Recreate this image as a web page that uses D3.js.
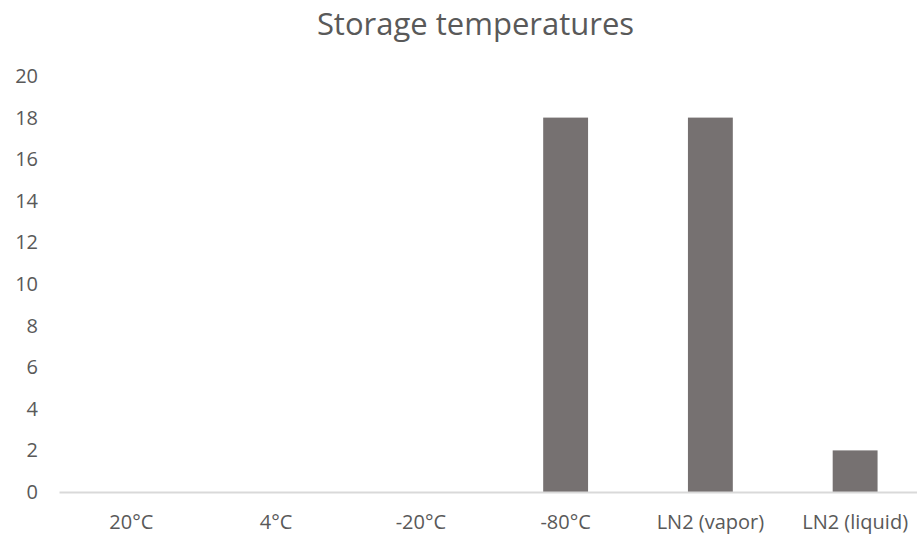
<!DOCTYPE html>
<html><head><meta charset="utf-8">
<script src="https://cdn.jsdelivr.net/npm/d3@7"></script>
<style>body{margin:0;background:#fff}svg{display:block}</style>
</head><body>
<script>
const categories = ["20°C","4°C","-20°C","-80°C","LN2 (vapor)","LN2 (liquid)"];
const values = [0,0,0,18,18,2];
const yTicks = [0,2,4,6,8,10,12,14,16,18,20];
const title = "Storage temperatures";

const W = 917, H = 535;
const svg = d3.select("body").append("svg").attr("width", W).attr("height", H);
const font = "'Open Sans', sans-serif";
const x = d3.scaleBand().domain(categories).range([59, 927.5]).paddingInner(0.69).paddingOuter(0.345);
const y = d3.scaleLinear().domain([0,20]).range([492, 76]);

svg.append("text").attr("x", 475.5).attr("y", 35).attr("text-anchor","middle")
  .attr("font-family", font).attr("font-size", 31).attr("fill","#595959").text(title);

const ya = svg.append("g").attr("transform","translate(38,0)")
  .call(d3.axisLeft(y).tickValues(yTicks).tickSize(0).tickPadding(0));
ya.select(".domain").remove();
ya.selectAll("text").attr("font-family", font).attr("font-size", 20).attr("fill","#595959");

svg.append("g").selectAll("rect").data(values).join("rect")
  .attr("x", (d,i) => x(categories[i]))
  .attr("width", x.bandwidth())
  .attr("y", d => y(d))
  .attr("height", d => y(0) - y(d))
  .attr("fill", "#767171");

const xa = svg.append("g").attr("transform", `translate(0,${y(0)})`)
  .call(d3.axisBottom(x).tickSize(0).tickPadding(23));
xa.select(".domain").attr("stroke","#d9d9d9").attr("stroke-width",2);
xa.selectAll("text").attr("font-family", font).attr("font-size", 20).attr("fill","#595959");
</script>
</body></html>
